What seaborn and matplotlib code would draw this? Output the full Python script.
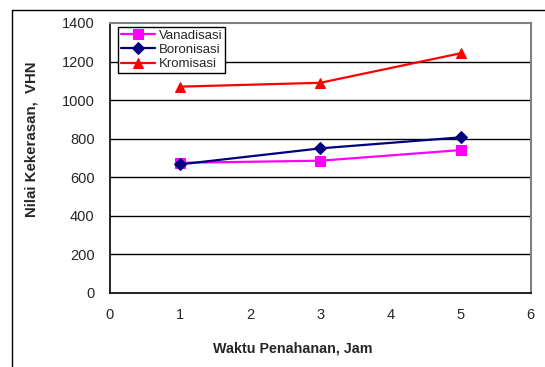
import matplotlib
matplotlib.use("Agg")
import matplotlib.pyplot as plt
import seaborn as sns
import pandas as pd
from matplotlib.lines import Line2D

sns.set_style("white")
plt.rcParams['font.family'] = ['Liberation Sans', 'DejaVu Sans']

waktu = [1, 3, 5]
vanadisasi = [675, 686, 741]
boronisasi = [667, 750, 807]
kromisasi = [1070, 1090, 1243]
series_names = ["Vanadisasi", "Boronisasi", "Kromisasi"]
series_values = [vanadisasi, boronisasi, kromisasi]
colors = ["#FF00FF", "#000080", "#FF0000"]
markers = ["s", "D", "^"]
msizes = [7, 6, 7.5]
xticks = [0, 1, 2, 3, 4, 5, 6]
yticks = [0, 200, 400, 600, 800, 1000, 1200, 1400]

W, H = 545, 367
fig = plt.figure(figsize=(W / 100, H / 100), dpi=100)
ax = fig.add_axes([110 / W, 1 - 293 / H, 420.7 / W, 270 / H])

for name, vals, c, m, ms in zip(series_names, series_values, colors, markers, msizes):
    df = pd.DataFrame({"x": waktu, "y": vals})
    sns.lineplot(data=df, x="x", y="y", ax=ax, color=c, marker=m, markersize=ms,
                 markeredgecolor=c, linewidth=1.6, label=name)

ax.set_xlim(0, 6)
ax.set_ylim(0, 1400)
ax.set_xticks(xticks)
ax.set_yticks(yticks)
ax.set_xticklabels([str(t) for t in xticks], fontsize=10.5)
ax.set_yticklabels([str(t) for t in yticks], fontsize=10.5)
for y in yticks[1:-1]:
    ax.axhline(y, color="black", linewidth=1.0, zorder=0)

ax.tick_params(axis="x", direction="out", length=4, width=1, color="black", pad=7)
ax.tick_params(axis="y", direction="inout", length=7, width=1, color="black", pad=7.5)
for s in ["left", "bottom"]:
    ax.spines[s].set_color("black")
    ax.spines[s].set_linewidth(1.2)
for s in ["top", "right"]:
    ax.spines[s].set_color("#808080")
    ax.spines[s].set_linewidth(1.5)

ax.set_xlabel("Waktu Penahanan, Jam", fontsize=10.3, fontweight="bold")
ax.set_ylabel("Nilai Kekerasan,  VHN", fontsize=10.8, fontweight="bold")
ax.xaxis.set_label_coords(0.435, -0.178)
ax.yaxis.set_label_coords(-0.169, 0.570)

leg = ax.legend(loc="upper left", bbox_to_anchor=((118 - 110) / 420.7, (293 - 27) / 270),
                frameon=True, fancybox=False, framealpha=1, edgecolor="black",
                fontsize=9.5, handlelength=2.6, borderpad=0.2, labelspacing=0.15,
                handletextpad=0.3, borderaxespad=0)
leg.get_frame().set_linewidth(1.0)

fig.add_artist(Line2D([12 / W, 1], [1 - 10 / H, 1 - 10 / H], transform=fig.transFigure,
                      color="black", linewidth=1.0))
fig.add_artist(Line2D([12 / W, 12 / W], [0, 1 - 10 / H], transform=fig.transFigure,
                      color="black", linewidth=1.0))

fig.savefig("out.png", dpi=100)
